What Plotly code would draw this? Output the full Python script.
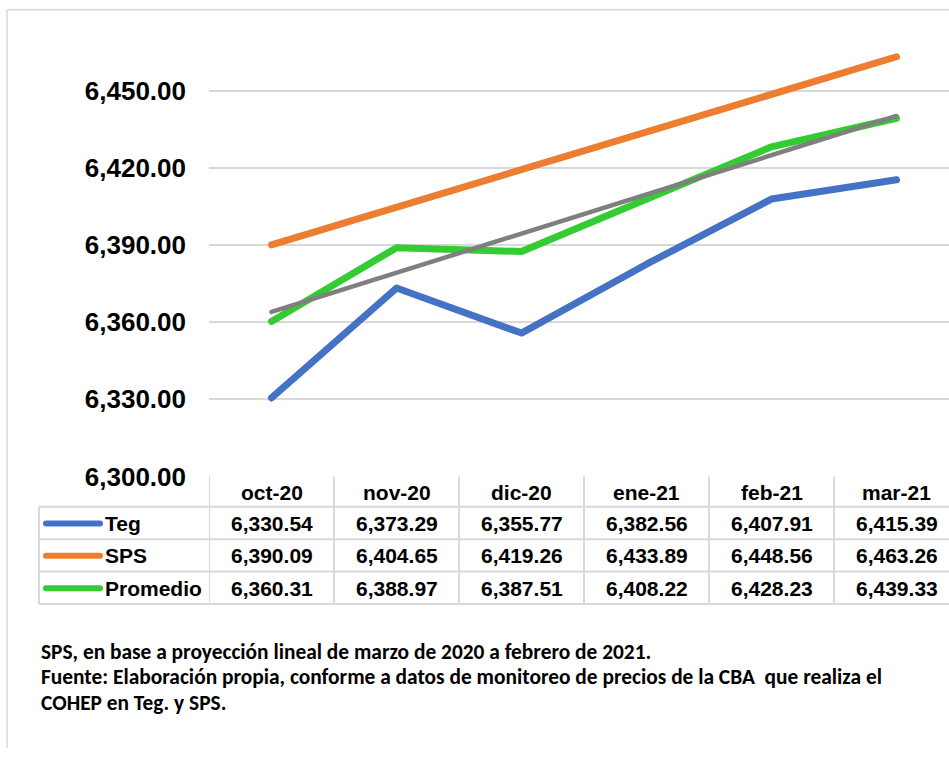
import plotly.graph_objects as go

months = ["oct-20", "nov-20", "dic-20", "ene-21", "feb-21", "mar-21"]
teg = [6330.54, 6373.29, 6355.77, 6382.56, 6407.91, 6415.39]
sps = [6390.09, 6404.65, 6419.26, 6433.89, 6448.56, 6463.26]
promedio = [6360.31, 6388.97, 6387.51, 6408.22, 6428.23, 6439.33]
trend_months = ["oct-20", "mar-21"]
trend_vals = [6363.98, 6440.21]
y_ticks = [6300, 6330, 6360, 6390, 6420, 6450]

series_names = ["Teg", "SPS", "Promedio"]
series_vals = [teg, sps, promedio]
series_colors = ["#4472C4", "#ED7D31", "#33CC33"]

W, H = 949, 763
def px(x):
    return x / W
def py(y):
    return 1 - y / H

fig = go.Figure()
for name, vals, col in zip(series_names, series_vals, series_colors):
    fig.add_trace(go.Scatter(x=months, y=vals, mode="lines", name=name,
                             line=dict(color=col, width=7), showlegend=False))
fig.add_trace(go.Scatter(x=trend_months, y=trend_vals, mode="lines",
                         line=dict(color="#7F7F7F", width=4.5), showlegend=False))

grid = "#D9D9D9"
shapes = []
annotations = []
# outer border (top and left edges visible)
shapes.append(dict(type="line", xref="paper", yref="paper", x0=px(7), x1=1,
                   y0=py(10), y1=py(10), line=dict(color=grid, width=1.5)))
shapes.append(dict(type="line", xref="paper", yref="paper", x0=px(7), x1=px(7),
                   y0=py(10), y1=0, line=dict(color=grid, width=1.5)))

# data table
row_lines = [517, 550, 583, 616]
row_centers = [534, 567, 600]
header_center = 502
for yl in row_lines:
    shapes.append(dict(type="line", xref="paper", yref="paper", x0=px(39), x1=1,
                       y0=py(yl), y1=py(yl), line=dict(color=grid, width=2)))
shapes.append(dict(type="line", xref="paper", yref="paper", x0=px(39), x1=px(39),
                   y0=py(517), y1=py(616), line=dict(color=grid, width=2)))
for i in range(len(months)):
    shapes.append(dict(type="line", xref="x", yref="paper", x0=i - 0.5, x1=i - 0.5,
                       y0=py(486), y1=py(616), line=dict(color=grid, width=2)))

bold = dict(family="Liberation Sans, Arial", size=21, color="#000000", weight="bold")
for i, m in enumerate(months):
    annotations.append(dict(x=i, y=py(header_center), xref="x", yref="paper", text=m,
                            showarrow=False, font=bold, xanchor="center", yanchor="middle"))
for r, (name, vals, col) in enumerate(zip(series_names, series_vals, series_colors)):
    yc = py(row_centers[r])
    shapes.append(dict(type="line", xref="paper", yref="paper", x0=px(46), x1=px(100),
                       y0=yc, y1=yc, line=dict(color=col, width=6)))
    annotations.append(dict(x=px(103), y=yc, xref="paper", yref="paper", text=name,
                            showarrow=False, font=bold, xanchor="left", yanchor="middle"))
    for i, v in enumerate(vals):
        annotations.append(dict(x=i, y=yc, xref="x", yref="paper", text=f"{v:,.2f}",
                                showarrow=False, font=bold, xanchor="center", yanchor="middle"))

foot = ["SPS, en base a proyección lineal de marzo de 2020 a febrero de 2021.",
        "Fuente: Elaboración propia, conforme a datos de monitoreo de precios de la CBA  que realiza el",
        "COHEP en Teg. y SPS."]
foot_y = [665, 691, 717]
for t, yy in zip(foot, foot_y):
    annotations.append(dict(x=px(39), y=py(yy), xref="paper", yref="paper", text=t,
                            showarrow=False, xanchor="left", yanchor="middle",
                            font=dict(family="Carlito, Calibri, Open Sans",
                                      size=21.4, color="#000000", weight="bold")))

fig.update_layout(
    width=W, height=H, margin=dict(l=0, r=0, t=0, b=0),
    paper_bgcolor="white", plot_bgcolor="white",
    shapes=shapes, annotations=annotations,
    xaxis=dict(domain=[px(209), 1], type="category", range=[-0.5, -0.5 + 740 / 125],
               showticklabels=False, showgrid=False, zeroline=False, showline=False, ticks=""),
    yaxis=dict(domain=[py(486), py(14)], range=[6300, 6480], tickvals=y_ticks,
               tickformat=",.2f", showgrid=True, gridcolor=grid, gridwidth=2,
               zeroline=False, showline=False, ticks="", ticklabelstandoff=22,
               tickfont=dict(family="Liberation Sans, Arial", size=26, color="#000000",
                             weight="bold")),
)

post = ("document.documentElement.style.margin='0';document.body.style.margin='0';"
        "document.documentElement.style.overflow='hidden';document.body.style.overflow='hidden';"
        "document.querySelectorAll('.js-line').forEach(function(p){"
        "p.style.strokeLinecap='round';p.style.strokeLinejoin='round';});"
        "document.querySelectorAll('.shapelayer path').forEach(function(p){"
        "if(parseFloat(p.style.strokeWidth)>=5){p.style.strokeLinecap='round';}});")
fig.write_html("out.html", config={"displayModeBar": False}, post_script=post)
